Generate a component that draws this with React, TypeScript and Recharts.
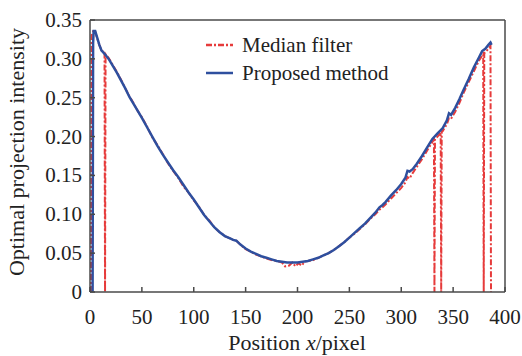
import React from 'react';
import { LineChart, Line, XAxis, YAxis, Legend, ReferenceLine } from 'recharts';

const proposedX = [2.5, 3, 3.5, 5, 7, 9, 11, 13, 15, 18, 22, 26, 30, 34, 38, 42, 46, 50, 55, 60, 65, 70, 75, 80, 85, 90, 95, 100, 105, 110, 115, 120, 125, 130, 135, 138, 141, 145, 150, 155, 160, 165, 170, 175, 180, 185, 190, 195, 200, 205, 210, 215, 220, 225, 230, 235, 240, 245, 250, 255, 260, 265, 270, 275, 279, 282, 285, 290, 295, 300, 304, 306, 308, 311, 315, 320, 325, 330, 335, 340, 344, 346, 348, 352, 356, 360, 365, 370, 375, 378, 381, 384, 386, 387];
const proposedY = [0, 0.32, 0.336, 0.336, 0.327, 0.318, 0.311, 0.308, 0.305, 0.3, 0.291, 0.282, 0.272, 0.262, 0.251, 0.242, 0.233, 0.224, 0.212, 0.2, 0.188, 0.177, 0.167, 0.157, 0.148, 0.138, 0.128, 0.119, 0.109, 0.099, 0.091, 0.083, 0.077, 0.072, 0.069, 0.067, 0.066, 0.061, 0.056, 0.052, 0.049, 0.046, 0.044, 0.042, 0.04, 0.039, 0.038, 0.038, 0.038, 0.039, 0.04, 0.042, 0.044, 0.047, 0.05, 0.054, 0.059, 0.064, 0.07, 0.076, 0.082, 0.088, 0.095, 0.102, 0.109, 0.112, 0.116, 0.124, 0.131, 0.139, 0.147, 0.156, 0.155, 0.158, 0.165, 0.175, 0.186, 0.197, 0.204, 0.211, 0.221, 0.23, 0.228, 0.237, 0.248, 0.26, 0.274, 0.289, 0.302, 0.31, 0.313, 0.318, 0.321, 0.318];

const medianX = [1, 1.5, 3.5, 5, 7, 9, 11, 13, 14, 14.5, 15, 18, 22, 26, 30, 34, 38, 42, 46, 50, 55, 60, 65, 70, 75, 80, 85, 90, 95, 100, 105, 110, 115, 120, 125, 130, 135, 138, 141, 145, 150, 155, 160, 165, 170, 175, 180, 185, 188, 192, 195, 198, 201, 204, 207, 210, 215, 220, 225, 230, 235, 240, 245, 250, 255, 260, 265, 270, 275, 279, 282, 285, 290, 295, 300, 304, 306, 308, 311, 315, 320, 325, 330, 331.5, 332, 332.5, 335, 338, 338.5, 339, 340, 344, 346, 348, 352, 356, 360, 365, 370, 375, 379, 379.5, 380, 384, 386, 386.5];
const medianY = [0, 0.33, 0.337, 0.335, 0.326, 0.318, 0.311, 0.309, 0.308, 0, 0.306, 0.301, 0.292, 0.283, 0.273, 0.262, 0.252, 0.243, 0.233, 0.225, 0.213, 0.199, 0.189, 0.178, 0.166, 0.156, 0.147, 0.136, 0.128, 0.118, 0.11, 0.099, 0.092, 0.083, 0.077, 0.072, 0.069, 0.067, 0.066, 0.061, 0.055, 0.052, 0.048, 0.046, 0.043, 0.041, 0.04, 0.038, 0.033, 0.034, 0.038, 0.033, 0.037, 0.034, 0.039, 0.04, 0.041, 0.044, 0.047, 0.05, 0.054, 0.059, 0.064, 0.07, 0.075, 0.081, 0.087, 0.094, 0.1, 0.106, 0.109, 0.113, 0.12, 0.127, 0.134, 0.141, 0.148, 0.146, 0.153, 0.161, 0.171, 0.182, 0.193, 0.196, 0, 0.197, 0.2, 0.205, 0, 0.206, 0.207, 0.216, 0.224, 0.223, 0.232, 0.243, 0.256, 0.27, 0.284, 0.298, 0.306, 0, 0.307, 0.313, 0.317, 0];

const xTicks = [0, 50, 100, 150, 200, 250, 300, 350, 400];
const yTicks = [0, 0.05, 0.1, 0.15, 0.2, 0.25, 0.3, 0.35];

const proposedData = proposedX.map((x, i) => ({ x, y: proposedY[i] }));
const medianData = medianX.map((x, i) => ({ x, y: medianY[i] }));

const FONT = '"Liberation Serif", "Times New Roman", serif';
const AXIS = '#4a4a4a';
const RED = '#e63b3b';
const BLUE = '#2e4f9e';
const DASH = '6 2 2 2';

const XTick = (props: any) => {
    const { x, y, payload } = props;
    return (
        <g>
            <line x1={x} y1={y} x2={x} y2={y - 5} stroke={AXIS} strokeWidth={1.5} />
            <text x={x} y={y + 32} textAnchor="middle" fontSize={21} fontFamily={FONT} fill="#222">
                {payload.value}
            </text>
        </g>
    );
};

const YTick = (props: any) => {
    const { x, y, payload } = props;
    const v = payload.value === 0 ? '0' : payload.value.toFixed(2);
    return (
        <g>
            <line x1={x} y1={y} x2={x + 5} y2={y} stroke={AXIS} strokeWidth={1.5} />
            <text x={x - 8} y={y + 7} textAnchor="end" fontSize={21} fontFamily={FONT} fill="#222">
                {v}
            </text>
        </g>
    );
};

const renderLegend = (props: any) => {
    const { payload } = props;
    return (
        <div style={{ fontFamily: FONT, fontSize: 21, color: '#222' }}>
            {payload.map((entry: any, i: number) => (
                <div key={i} style={{ display: 'flex', alignItems: 'center', height: 28 }}>
                    <svg width={37} height={10}>
                        <line x1={1} y1={5} x2={28} y2={5} stroke={entry.color} strokeWidth={2.5}
                            strokeDasharray={entry.payload?.strokeDasharray} />
                    </svg>
                    <span style={{ whiteSpace: 'nowrap' }}>{entry.value}</span>
                </div>
            ))}
        </div>
    );
};

export default function App() {
    return (
        <div style={{ position: 'absolute', left: 0, top: 0, background: '#fff' }}>
            <LineChart width={522} height={356} margin={{ top: 20, right: 17, bottom: 0, left: 0 }}>
                <XAxis
                    dataKey="x"
                    type="number"
                    domain={[0, 400]}
                    ticks={xTicks}
                    allowDuplicatedCategory={false}
                    height={64}
                    stroke={AXIS}
                    strokeWidth={1.5}
                    tickSize={0}
                    tickMargin={0}
                    tickLine={false}
                    tick={<XTick />}
                    label={{
                        content: () => (
                            <text x={297} y={350} textAnchor="middle" fontSize={22} fontFamily={FONT} fill="#222">
                                Position <tspan fontStyle="italic">x</tspan>/pixel
                            </text>
                        ),
                    }}
                />
                <YAxis
                    type="number"
                    domain={[0, 0.35]}
                    ticks={yTicks}
                    width={90}
                    stroke={AXIS}
                    strokeWidth={1.5}
                    tickSize={0}
                    tickMargin={0}
                    tickLine={false}
                    tick={<YTick />}
                    label={{
                        content: () => (
                            <text x={24} y={152} transform="rotate(-90 24 152)" textAnchor="middle"
                                fontSize={22} fontFamily={FONT} fill="#222">
                                Optimal projection intensity
                            </text>
                        ),
                    }}
                />
                <ReferenceLine y={0.35} stroke={AXIS} strokeWidth={1.5} />
                <ReferenceLine x={400} stroke={AXIS} strokeWidth={1.5} />
                <Legend
                    verticalAlign="middle"
                    align="center"
                    layout="vertical"
                    wrapperStyle={{ top: 31, left: 205, width: 'auto', height: 'auto' }}
                    content={renderLegend}
                />
                <Line
                    data={medianData}
                    dataKey="y"
                    name="Median filter"
                    type="linear"
                    stroke={RED}
                    strokeWidth={2}
                    strokeDasharray={DASH}
                    dot={false}
                    isAnimationActive={false}
                />
                <Line
                    data={proposedData}
                    dataKey="y"
                    name="Proposed method"
                    type="linear"
                    stroke={BLUE}
                    strokeWidth={2.5}
                    dot={false}
                    isAnimationActive={false}
                />
            </LineChart>
        </div>
    );
}
